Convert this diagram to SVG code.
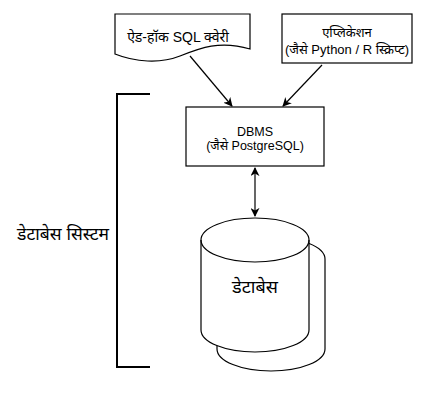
<svg xmlns="http://www.w3.org/2000/svg" width="426" height="393" viewBox="0 0 426 393">
<defs>
<marker id="ah" viewBox="0 0 10 10" refX="9" refY="5" markerWidth="9" markerHeight="9" orient="auto-start-reverse" markerUnits="userSpaceOnUse">
<path d="M0,0 L10,5 L0,10 L3,5 Z" fill="#000"/>
</marker>
</defs>
<style>
.s{fill:#fff;stroke:#000;stroke-width:1.2}
.t{font-family:"Liberation Sans","Noto Sans",sans-serif;font-size:12.5px;fill:#000;text-anchor:middle}
.c{fill:none;stroke:#000;stroke-width:1.2}
</style>
<rect width="426" height="393" fill="#fff"/>
<g id="adhoc">
<path class="s" d="M115,14 H250 V49 C220,40 200,48 180,56 C160,64 135,62 115,54 Z"/>
<text class="t" x="178" y="42" style="font-size:14px">ऐड-हॉक SQL क्वेरी</text>
</g>
<g id="app">
<rect class="s" x="282" y="14" width="130" height="49"/>
<text class="t" x="347" y="37" style="font-size:13px">एप्लिकेशन</text>
<text class="t" x="347" y="54" style="font-size:13px">(जैसे Python / R स्क्रिप्ट)</text>
</g>
<g id="dbms">
<rect class="s" x="186" y="107" width="138" height="59"/>
<text class="t" x="255" y="136">DBMS</text>
<text class="t" x="255" y="150">(जैसे PostgreSQL)</text>
</g>
<g id="database">
<path class="s" d="M217,259 A54,22 0 0 1 325,259 V349 A54,22 0 0 1 217,349 Z"/>
<path class="s" d="M201,240 A54,22 0 0 1 309,240 V330 A54,22 0 0 1 201,330 Z"/>
<path class="c" d="M201,240 A54,22 0 0 0 309,240"/>
<text class="t" x="255" y="293" style="font-size:18px;font-weight:normal">डेटाबेस</text>
</g>
<g id="system">
<path d="M150,94 H117 V367 H150" fill="none" stroke="#000" stroke-width="2"/>
<text class="t" x="63" y="240" style="font-size:17.5px">डेटाबेस सिस्टम</text>
</g>
<g id="connectors">
<line class="c" x1="190" y1="56" x2="232" y2="106" marker-end="url(#ah)"/>
<line class="c" x1="322" y1="65" x2="283" y2="106" marker-end="url(#ah)"/>
<line class="c" x1="255" y1="168" x2="255" y2="216" marker-start="url(#ah)" marker-end="url(#ah)"/>
</g>
</svg>
